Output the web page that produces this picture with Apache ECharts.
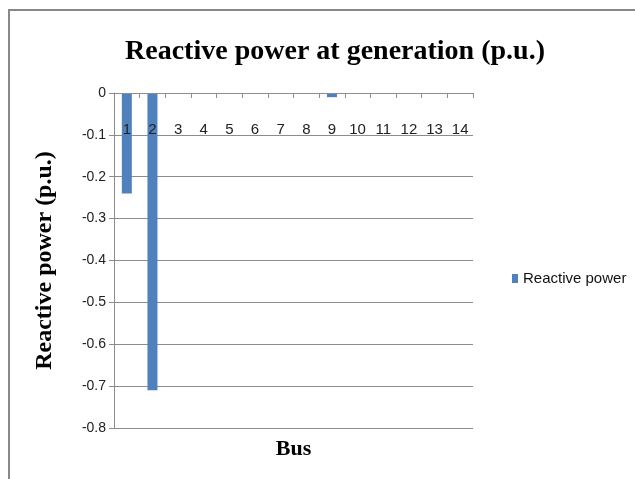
<!DOCTYPE html>
<html>
<head>
<meta charset="utf-8">
<script src="https://cdn.jsdelivr.net/npm/echarts@6/dist/echarts.min.js"></script>
<style>
  html, body { margin: 0; padding: 0; background: #fff; }
  #chart { width: 635px; height: 479px; }
</style>
</head>
<body>
<div id="chart"></div>
<script>
// Bus numbers and reactive power drawn at each generator bus (p.u.)
const buses = ['1', '2', '3', '4', '5', '6', '7', '8', '9', '10', '11', '12', '13', '14'];
const reactivePower = [-0.24, -0.71, 0, 0, 0, 0, 0, 0, -0.01, 0, 0, 0, 0, 0];
const seriesName = 'Reactive power';
const titleText = 'Reactive power at generation (p.u.)';
const xName = 'Bus';
const yName = 'Reactive power (p.u.)';

const serif = '"Liberation Serif", "Times New Roman", serif';
const sans = '"Liberation Sans", Arial, sans-serif';
const gridGray = '#8c8c8c';

const chart = echarts.init(document.getElementById('chart'));
chart.setOption({
  animation: false,
  backgroundColor: '#ffffff',
  graphic: [{
    type: 'rect',
    shape: { x: 9, y: 10, width: 700, height: 600 },
    style: { fill: 'none', stroke: '#888888', lineWidth: 2 },
    silent: true
  }],
  title: {
    text: titleText,
    left: 330,
    textAlign: 'center',
    top: 33,
    textStyle: { fontFamily: serif, fontWeight: 'bold', fontSize: 28, color: '#000' }
  },
  legend: {
    data: [seriesName],
    left: 507,
    top: 266,
    orient: 'vertical',
    icon: 'rect',
    itemWidth: 6,
    itemHeight: 9,
    itemGap: 6,
    textStyle: { fontFamily: sans, fontSize: 15, color: '#111' }
  },
  grid: {
    left: 114, top: 93, width: 359, height: 335,
    containLabel: false,
    outerBoundsMode: 'none'
  },
  xAxis: [{
    // category axis running along the zero line at the top of the plot,
    // drawn above the bars so the bus numbers stay readable
    type: 'category',
    data: buses,
    position: 'top',
    z: 5,
    axisLine: { onZero: false, lineStyle: { color: gridGray, width: 1 } },
    axisTick: { show: true, inside: true, alignWithLabel: false, length: 5, lineStyle: { color: gridGray } },
    axisLabel: { inside: true, margin: 29, fontFamily: sans, fontSize: 15, color: '#222', interval: 0 },
    splitLine: { show: false }
  }, {
    // bottom axis carries only the axis title
    type: 'category',
    data: buses,
    position: 'bottom',
    name: xName,
    nameLocation: 'middle',
    nameGap: 10,
    nameTextStyle: { fontFamily: serif, fontWeight: 'bold', fontSize: 22, color: '#000' },
    axisLine: { show: false },
    axisTick: { show: false },
    axisLabel: { show: false },
    splitLine: { show: false }
  }],
  yAxis: {
    type: 'value',
    min: -0.8,
    max: 0,
    interval: 0.1,
    name: yName,
    nameLocation: 'middle',
    nameGap: 57,
    nameTextStyle: { fontFamily: serif, fontWeight: 'bold', fontSize: 24, color: '#000' },
    axisLine: { show: true, lineStyle: { color: gridGray, width: 1 } },
    axisTick: { show: true, length: 5, lineStyle: { color: gridGray } },
    axisLabel: {
      margin: 8,
      fontFamily: sans,
      fontSize: 14,
      color: '#222',
      hideOverlap: false,
      formatter: v => (Math.abs(v) < 1e-9 ? '0' : v.toFixed(1))
    },
    splitLine: { show: true, lineStyle: { color: gridGray, width: 1 } }
  },
  series: [{
    name: seriesName,
    type: 'bar',
    xAxisIndex: 0,
    data: reactivePower,
    barWidth: 10,
    itemStyle: { color: '#4f81bd' }
  }]
});
</script>
</body>
</html>
